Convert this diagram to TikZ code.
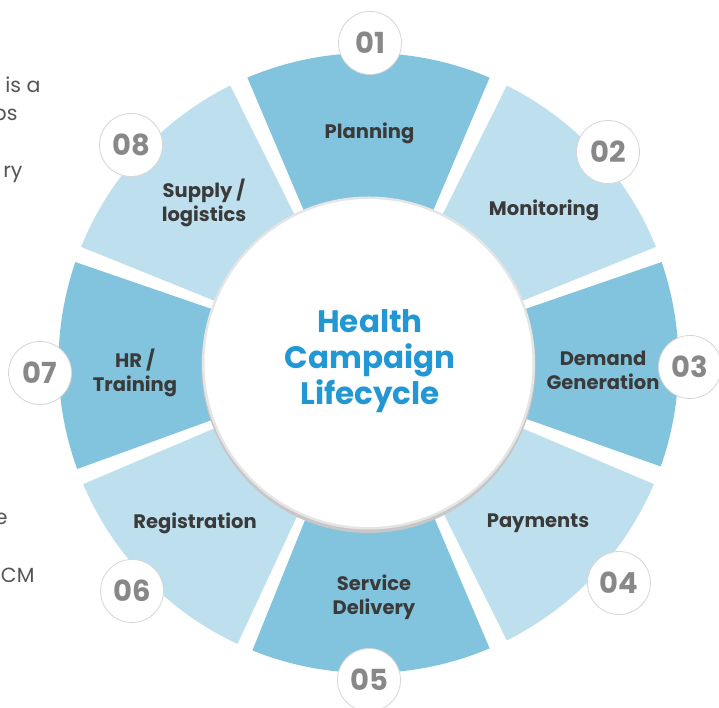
\documentclass[tikz,border=0pt]{standalone}
\usepackage{fontspec}
\setmainfont{Poppins}
\usetikzlibrary{calc}
\definecolor{segdark}{RGB}{130,196,222}
\definecolor{seglight}{RGB}{190,224,238}
\definecolor{titleblue}{RGB}{35,151,212}
\definecolor{labelgray}{RGB}{58,58,58}
\definecolor{numgray}{RGB}{136,136,136}
\definecolor{sidegray}{RGB}{85,85,85}
\def\ringpart[#1](#2)(#3:#4){\fill[#1] ($(#2)+(#3:150pt)$) arc (#3:#4:150pt) -- ($(#2)+(#4:310pt)$) arc (#4:#3:310pt) -- cycle;}
\tikzset{
	badge/.style={circle, fill=white, draw=black!16, line width=0.8pt, minimum size=63pt, inner sep=0pt, text=numgray, font=\bfseries\fontsize{29}{29}\selectfont},
	steplabel/.style={align=center, text=labelgray, font=\bfseries\fontsize{19.5}{24}\selectfont},
	sidetext/.style={anchor=base east, text=sidegray, font=\fontsize{20.5}{24}\selectfont}
}

\begin{document}
\begin{tikzpicture}[x=1pt, y=1pt]
		%%%%% START %%%%%
		\clip (0, 0) rectangle (719, 708);
		\fill[white] (0, 0) rectangle (719, 708);
		\coordinate (c) at (368.5, 345);
		
		\node[sidetext] (frag1) at (44, 615) {is a};
		\node[sidetext] (frag2) at (21, 587) {ps};
		\node[sidetext] (frag3) at (26, 530) {ry};
		\node[sidetext] (frag4) at (11, 183) {e};
		\node[sidetext] (frag5) at (38, 125) {CM};
		
		\ringpart[segdark](c)(67:113);
		\ringpart[seglight](c)(22:63.5);
		\ringpart[segdark](c)(-19.5:19);
		\ringpart[seglight](c)(-63.5:-23);
		\ringpart[segdark](c)(-112:-67);
		\ringpart[seglight](c)(-157:-115);
		\ringpart[segdark](c)(161:200);
		\ringpart[seglight](c)(116.5:158);
		
		\fill[black!22] ($(c)+(0, -3)$) circle (167pt);
		\fill[black!10] (c) circle (166.5pt);
		\fill[white] (c) circle (164pt);
		\node[align=center, text=titleblue, font=\bfseries\fontsize{31}{36}\selectfont] (title) at (370, 347) {Health\\Campaign\\Lifecycle};
		
		\node[steplabel] (planning) at (369.5, 575) {Planning};
		\node[steplabel] (monitoring) at (544, 498) {Monitoring};
		\node[steplabel] (demand) at (603, 338) {Demand\\Generation};
		\node[steplabel] (payments) at (538, 185) {Payments};
		\node[steplabel] (delivery) at (374, 111) {Service\\Delivery};
		\node[steplabel] (registration) at (195, 185) {Registration};
		\node[steplabel] (training) at (135, 335) {HR /\\Training};
		\node[steplabel] (supply) at (204, 505) {Supply /\\logistics};
		
		\node[badge] (n01) at (370, 665) {01};
		\node[badge] (n02) at (608, 556) {02};
		\node[badge] (n03) at (690, 341) {03};
		\node[badge] (n04) at (619, 125) {04};
		\node[badge] (n05) at (369, 28) {05};
		\node[badge] (n06) at (132, 117) {06};
		\node[badge] (n07) at (40, 335) {07};
		\node[badge] (n08) at (131, 563) {08};
		%%%%% END %%%%%
	\end{tikzpicture}
\end{document}
